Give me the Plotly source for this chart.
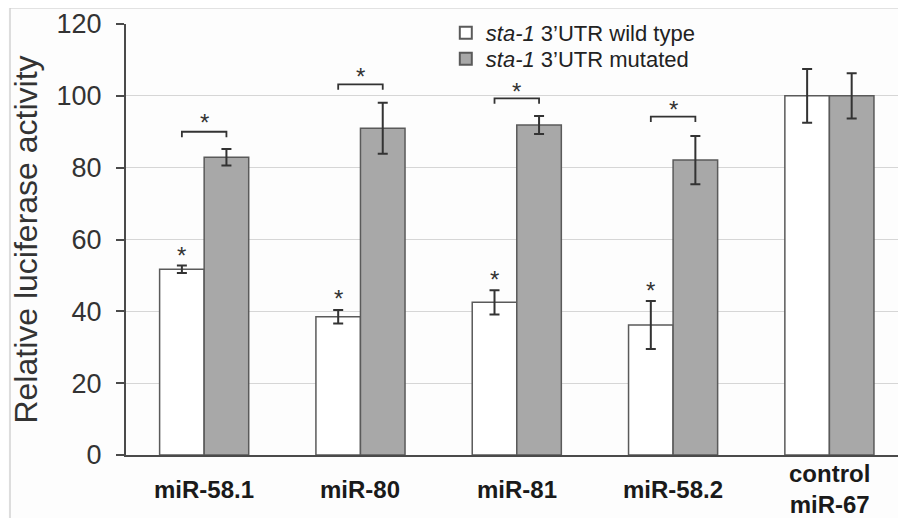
import plotly.graph_objects as go

categories = ["miR-58.1", "miR-80", "miR-81", "miR-58.2", "control<br>miR-67"]
wild_type = [51.7, 38.5, 42.5, 36.2, 100.0]
wild_type_err = [1.05, 1.9, 3.35, 6.7, 7.5]
mutated = [82.9, 91.0, 91.9, 82.1, 100.0]
mutated_err = [2.3, 7.1, 2.5, 6.75, 6.3]

# significance markers (None = no marker)
wt_star_y = [56.4, 44.5, 49.6, 46.7, None]
bracket_y = [90.0, 103.2, 99.3, 94.2, None]
bracket_star_y = [93.5, 106.1, 102.1, 97.0, None]

y_ticks = [0, 20, 40, 60, 80, 100, 120]

FONT = "Liberation Sans, Arial, sans-serif"
AXIS_COLOR = "#4a4a4a"
BAR_LINE = "#5a5a5a"
ERR_COLOR = "#333333"
BARGAP = 0.43

# the page body has an 8px margin, so the figure is laid out 8px up/left
L, T, R, B = 118, 16, 8, 71
W, H = 906, 518
PW, PH = W - L - R, H - T - B

idx = list(range(len(categories)))

fig = go.Figure()
fig.add_trace(go.Bar(
    x=idx, y=wild_type, name="<i>sta-1</i> 3\u2019UTR wild type", legend="legend",
    marker=dict(color="#ffffff", line=dict(color=BAR_LINE, width=1.5)),
    error_y=dict(type="data", array=wild_type_err, color=ERR_COLOR, thickness=2, width=5),
))
fig.add_trace(go.Bar(
    x=idx, y=mutated, name="<i>sta-1</i> 3\u2019UTR mutated", legend="legend2",
    marker=dict(color="#a8a8a8", line=dict(color=BAR_LINE, width=1.5)),
    error_y=dict(type="data", array=mutated_err, color=ERR_COLOR, thickness=2, width=5),
))

# brackets between the two bars of a group
half = (1 - BARGAP) / 4.0
drop = 1.5
for i, b in enumerate(bracket_y):
    if b is None:
        continue
    fig.add_trace(go.Scatter(
        x=[i - half, i - half, i + half, i + half],
        y=[b - drop, b, b, b - drop],
        mode="lines", line=dict(color="#333333", width=1.8),
        showlegend=False, hoverinfo="skip",
    ))

annotations = []
STAR_SHIFT = -3
for i in idx:
    if wt_star_y[i] is not None:
        annotations.append(dict(x=i - half, y=wt_star_y[i], xref="x", yref="y", text="*",
                                showarrow=False, yanchor="middle", yshift=STAR_SHIFT,
                                font=dict(family=FONT, size=24, color="#333333")))
    if bracket_star_y[i] is not None:
        annotations.append(dict(x=i, y=bracket_star_y[i], xref="x", yref="y", text="*",
                                showarrow=False, yanchor="middle", yshift=STAR_SHIFT,
                                font=dict(family=FONT, size=24, color="#333333")))
    annotations.append(dict(x=i, y=0, xref="x", yref="y", text="<b>%s</b>" % categories[i],
                            showarrow=False, yanchor="middle", yshift=-34,
                            font=dict(family=FONT, size=24, color="#1a1a1a")))

legend_common = dict(xanchor="left", yanchor="middle", bgcolor="rgba(0,0,0,0)",
                     font=dict(family=FONT, size=22, color="#222222"),
                     itemsizing="constant")

fig.update_layout(
    width=W, height=H,
    margin=dict(l=L, r=R, t=T, b=B, autoexpand=False),
    paper_bgcolor="#fdfdfd", plot_bgcolor="#fdfdfd",
    barmode="group", bargap=BARGAP, bargroupgap=0,
    font=dict(family=FONT, color="#333333"),
    showlegend=True,
    legend=dict(x=0.410, y=1 + (T - 25) / PH, **legend_common),
    legend2=dict(x=0.410, y=1 + (T - 51) / PH, **legend_common),
    annotations=annotations,
    shapes=[dict(type="rect", xref="paper", yref="paper",
                 x0=(2 - L) / PW, x1=1.2, y0=-0.3, y1=1 + T / PH,
                 line=dict(color="#c8c8c8", width=1.2), layer="below")],
)
fig.update_xaxes(range=[-0.5, 4.49], showticklabels=False, ticks="",
                 showline=True, linecolor=AXIS_COLOR, linewidth=2, showgrid=False,
                 zeroline=False, fixedrange=True)
fig.update_yaxes(range=[0, 120], tickvals=y_ticks, ticks="outside", ticklen=8,
                 tickwidth=2, tickcolor=AXIS_COLOR,
                 showline=True, linecolor=AXIS_COLOR, linewidth=2,
                 showgrid=True, gridcolor="#d6d6d6", gridwidth=1.2, zeroline=False,
                 tickfont=dict(family=FONT, size=27, color="#333333"),
                 ticklabelstandoff=9,
                 title=dict(text="Relative luciferase activity", standoff=9,
                            font=dict(family=FONT, size=32, color="#333333")))

fig.write_html("out.html")
